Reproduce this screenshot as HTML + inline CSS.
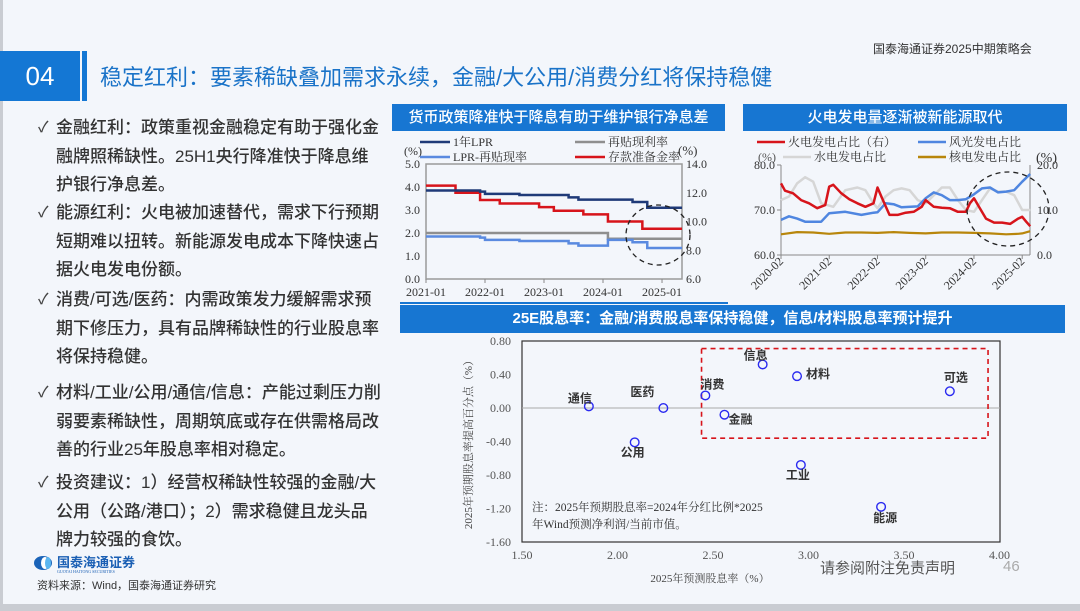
<!DOCTYPE html>
<html><head><meta charset="utf-8">
<style>
*{margin:0;padding:0;box-sizing:border-box}
body{width:1080px;height:611px;overflow:hidden;background:#f3f6fb;font-family:"Liberation Sans","Noto Sans CJK SC",sans-serif;position:relative}
.abs{position:absolute}
.bul{position:absolute;left:38px;width:350px;font-size:17px;line-height:28.5px;color:#333;font-weight:500}
.bul .ck{position:absolute;left:0;top:0;color:#444;font-size:15px}
.bul .tx{display:block;margin-left:18px;width:326px}
.ptitle{position:absolute;background:#1776d2;color:#fff;font-size:15px;text-align:center;line-height:27px;font-weight:500}
svg text{font-family:"Liberation Serif","Noto Serif CJK SC",serif}
</style></head><body>
<div class="abs" style="left:0;top:0;width:3px;height:611px;background:#c9ccd2"></div>
<div class="abs" style="left:0;top:604px;width:1080px;height:7px;background:#c9ccd2"></div>
<div class="abs" style="left:873px;top:40px;font-size:12px;color:#333">国泰海通证券2025中期策略会</div>
<div class="abs" style="left:0;top:51px;width:80px;height:50px;background:#1477d4;color:#fff;font-size:26px;line-height:50px;text-align:center">04</div>
<div class="abs" style="left:82px;top:51px;width:5px;height:50px;background:#1477d4"></div>
<div class="abs" style="left:100px;top:60px;font-size:22px;color:#1a73c8;white-space:nowrap">稳定红利：要素稀缺叠加需求永续，金融/大公用/消费分红将保持稳健</div>

<div class="bul" style="top:114px"><span class="ck">✓</span><span class="tx">金融红利：政策重视金融稳定有助于强化金融牌照稀缺性。25H1央行降准快于降息维护银行净息差。</span></div>
<div class="bul" style="top:199px"><span class="ck">✓</span><span class="tx">能源红利：火电被加速替代，需求下行预期短期难以扭转。新能源发电成本下降快速占据火电发电份额。</span></div>
<div class="bul" style="top:286px"><span class="ck">✓</span><span class="tx">消费/可选/医药：内需政策发力缓解需求预期下修压力，具有品牌稀缺性的行业股息率将保持稳健。</span></div>
<div class="bul" style="top:379px"><span class="ck">✓</span><span class="tx">材料/工业/公用/通信/信息：产能过剩压力削弱要素稀缺性，周期筑底或存在供需格局改善的行业25年股息率相对稳定。</span></div>
<div class="bul" style="top:469px"><span class="ck">✓</span><span class="tx">投资建议：1）经营权稀缺性较强的金融/大公用（公路/港口）；2）需求稳健且龙头品牌力较强的食饮。</span></div>

<div class="abs" style="left:33px;top:554px;width:130px;height:20px">
 <svg width="130" height="20"><ellipse cx="10" cy="9" rx="9" ry="7" fill="#1a63b8"/><ellipse cx="12" cy="9" rx="4" ry="6" fill="#fff"/><ellipse cx="15" cy="9" rx="3" ry="6" fill="#5bb6f0"/>
 <text x="24" y="13" font-size="13" fill="#1a5fb4" style="font-family:'Liberation Sans','Noto Sans CJK SC',sans-serif;font-weight:bold">国泰海通证券</text>
 <text x="24" y="19" font-size="4" fill="#1a5fb4">GUOTAI HAITONG SECURITIES</text></svg></div>
<div class="abs" style="left:37px;top:577px;font-size:11px;color:#333">资料来源：Wind，国泰海通证券研究</div>
<div class="abs" style="left:820px;top:557px;font-size:15px;color:#555">请参阅附注免责声明</div>
<div class="abs" style="left:1003px;top:558px;font-size:15px;color:#aaa">46</div>

<div class="ptitle" style="left:392px;top:104px;width:333px">货币政策降准快于降息有助于维护银行净息差</div>
<div class="ptitle" style="left:743px;top:104px;width:324px">火电发电量逐渐被新能源取代</div>
<div class="ptitle" style="left:400px;top:305px;width:665px;line-height:28px;font-weight:bold">25E股息率：金融/消费股息率保持稳健，信息/材料股息率预计提升</div>

<svg id="svg" class="abs" style="left:0;top:0" width="1080" height="611"></svg>

<script>
// ---- Chart 1 data ----
const lprDates=["2021-01","2021-12","2022-01","2022-08","2023-06","2023-08","2024-07","2024-10"];
const lprVals=[3.85,3.80,3.70,3.65,3.55,3.45,3.35,3.10];
const redDates=["2021-01","2024-02"];
const redVals=[2.00,1.75];
const rrrDates=["2021-01","2021-07","2021-12","2022-04","2022-12","2023-03","2023-09","2024-02","2024-09"];
const rrrVals=[12.5,12.0,11.5,11.25,11.0,10.75,10.5,10.0,9.5];
const c1Ticks=["2021-01","2022-01","2023-01","2024-01","2025-01"];
const c1LeftTicks=[0,1,2,3,4,5];
const c1RightTicks=[6,8,10,12,14];
const c1End="2025-05";
// ---- Chart 2 data ----
const c2Ticks=["2020-02","2021-02","2022-02","2023-02","2024-02","2025-02"];
const thermalM=["2020-02","2020-03","2020-05","2020-07","2020-09","2020-11","2021-01","2021-02","2021-03","2021-05","2021-07","2021-09","2021-11","2022-01","2022-02","2022-03","2022-05","2022-07","2022-09","2022-11","2023-01","2023-02","2023-04","2023-06","2023-08","2023-10","2023-12","2024-01","2024-02","2024-03","2024-05","2024-07","2024-09","2024-11","2025-01","2025-02","2025-03","2025-04"];
const thermalV=[75.9,74.3,73.7,72.2,71.5,70.4,71.1,75.2,75.6,73.7,72.4,71.5,70.7,71.5,75.0,72.9,68.9,68.9,69.4,69.6,70.7,72.2,70.7,70.5,70.4,69.6,69.6,71.5,72.6,71.1,68.1,67.2,67.2,66.9,68.1,68.5,67.4,66.4];
const windM=["2020-02","2020-04","2020-06","2020-08","2020-12","2021-02","2021-06","2021-10","2022-01","2022-02","2022-04","2022-06","2022-08","2022-12","2023-02","2023-04","2023-06","2023-08","2023-10","2023-12","2024-02","2024-04","2024-06","2024-08","2024-10","2024-12","2025-02","2025-04"];
const windV=[67.8,68.6,68.1,67.4,67.4,69.3,69.6,68.9,69.4,69.5,71.5,71.3,70.6,70.8,72.6,73.9,73.3,72.2,72.2,72.4,73.5,74.8,75.0,73.9,74.1,74.4,76.3,78.0];
const hydroM=["2020-02","2020-04","2020-06","2020-08","2020-10","2020-12","2021-03","2021-06","2021-09","2021-11","2022-01","2022-02","2022-04","2022-06","2022-08","2022-10","2022-12","2023-02","2023-04","2023-06","2023-08","2023-10","2023-12","2024-02","2024-04","2024-06","2024-08","2024-10","2024-12","2025-02","2025-04"];
const hydroV=[72.2,73.0,75.9,77.3,76.3,71.5,70.7,74.4,75.0,74.4,71.5,70.4,73.0,74.4,74.8,74.4,72.2,71.5,73.3,75.0,75.0,72.2,70.0,69.6,72.2,74.8,74.1,74.1,73.3,70.0,70.0];
const nuclearM=["2020-02","2020-06","2020-10","2021-02","2021-06","2021-10","2022-02","2022-06","2022-10","2023-02","2023-06","2023-10","2024-02","2024-06","2024-10","2025-01","2025-02","2025-04"];
const nuclearV=[64.6,65.1,65.0,64.7,65.0,65.0,64.9,65.1,64.9,64.8,65.0,65.0,64.9,64.8,64.6,64.7,64.8,65.3];
const c2LeftTicks=[60,70,80];
const c2RightTicks=["0.0","10.0","20.0"];
// ---- Chart 3 data ----
const sectors=["通信","医药","公用","消费","金融","信息","材料","工业","能源","可选"];
const divYield=[1.85,2.24,2.09,2.46,2.56,2.76,2.94,2.96,3.38,3.74];
const divChange=[0.02,0.00,-0.41,0.15,-0.08,0.52,0.38,-0.68,-1.18,0.20];
const c3XTicks=[1.5,2.0,2.5,3.0,3.5,4.0];
const c3YTicks=[0.8,0.4,0.0,-0.4,-0.8,-1.2,-1.6];

const NS="http://www.w3.org/2000/svg";
const svg=document.getElementById('svg');
function mk(tag,attrs,parent){const e=document.createElementNS(NS,tag);for(const k in attrs)e.setAttribute(k,attrs[k]);(parent||svg).appendChild(e);return e;}
function txt(x,y,s,attrs){const t=mk('text',Object.assign({x:x,y:y},attrs||{}));t.textContent=s;return t;}
function mIdx(s,base){const [y,m]=s.split('-').map(Number);const [by,bm]=base.split('-').map(Number);return (y-by)*12+(m-bm);}

// ===== Chart 1 =====
const c1x=s=>426+mIdx(s,"2021-01")*4.917;
const c1yL=v=>279-v*23;
const c1yR=v=>279-(v-6)*14.375;
let g=mk('g',{});


mk('rect',{x:426,y:164,width:256,height:115,fill:'none',stroke:'#9a9a9a','stroke-width':1.5},g);
c1LeftTicks.forEach(v=>{const t=txt(420,c1yL(v)+4,v.toFixed(1),{'font-size':12,'text-anchor':'end',fill:'#333'},g);});
c1RightTicks.forEach(v=>{const t=txt(686,c1yR(v)+4,v.toFixed(1),{'font-size':12,fill:'#333'},g);});
c1Ticks.forEach(s=>{const x=c1x(s);mk('line',{x1:x,x2:x,y1:279,y2:283,stroke:'#888'},g);const t=txt(x,296,s,{'font-size':12,'text-anchor':'middle',fill:'#333'},g);});
function stepPath(yf,valAt){const endM=mIdx(c1End,"2021-01");let d='';
 for(let m=0;m<=endM;m++){let v=valAt(m);const x0=426+m*4.917,x1=426+(m+1)*4.917;const y=yf(v);d+=(m===0?'M':'L')+x0+','+y+' L'+Math.min(x1,682)+','+y+' ';}return d;}
function valFn(dates,vals){return m=>{let v=vals[0];dates.forEach((d,i)=>{if(mIdx(d,"2021-01")<=m)v=vals[i];});return v;};}
const lprF=valFn(lprDates,lprVals),redF=valFn(redDates,redVals),rrrF=valFn(rrrDates,rrrVals);
const spreadF=m=>lprF(m)-redF(m);
let p;
p=mk('path',{d:stepPath(c1yR,rrrF),fill:'none',stroke:'#d7141b','stroke-width':2.5},g);
p=mk('path',{d:stepPath(c1yL,redF),fill:'none',stroke:'#8f8f8f','stroke-width':2.5},g);
p=mk('path',{d:stepPath(c1yL,spreadF),fill:'none',stroke:'#5a8ae0','stroke-width':2.5},g);
p=mk('path',{d:stepPath(c1yL,lprF),fill:'none',stroke:'#1f3a78','stroke-width':2.5},g);
p=mk('ellipse',{cx:658,cy:235,rx:32,ry:30,fill:'none',stroke:'#222','stroke-width':1.3,'stroke-dasharray':'5,4'},g);
const l1=[[420,142,'#1f3a78','1年LPR'],[420,157,'#5a8ae0','LPR-再贴现率'],[575,142,'#8f8f8f','再贴现利率'],[575,157,'#d7141b','存款准备金率']];
l1.forEach(a=>{mk('line',{x1:a[0],x2:a[0]+30,y1:a[1],y2:a[1],stroke:a[2],'stroke-width':2.5},g);const t=txt(a[0]+33,a[1]+4,a[3],{'font-size':12,fill:'#333'},g);});
txt(404,155,'(%)',{'font-size':12,fill:'#333'},g);
txt(678,155,'(%)',{'font-size':13,fill:'#333'},g);
mk('line',{x1:400,x2:728,y1:303,y2:303,stroke:'#1776d2','stroke-width':2},g);

// ===== Chart 2 =====
const c2x=s=>781+mIdx(s,"2020-02")*4.02;
const c2y=v=>255-(v-60)*4.5;
g=mk('g',{});


mk('line',{x1:781,x2:781,y1:165,y2:255,stroke:'#888'},g);
mk('line',{x1:781,x2:1030,y1:255,y2:255,stroke:'#888'},g);
mk('line',{x1:1030,x2:1030,y1:165,y2:255,stroke:'#888'},g);
c2LeftTicks.forEach(v=>{mk('line',{x1:777,x2:781,y1:c2y(v),y2:c2y(v),stroke:'#888'},g);const t=txt(775,c2y(v)+4,v.toFixed(1),{'font-size':12,'text-anchor':'end',fill:'#333'},g);});
c2RightTicks.forEach((s,i)=>{const t=txt(1037,255-i*45+4,s,{'font-size':12,fill:'#333'},g);});
c2Ticks.forEach(s=>{const x=c2x(s);mk('line',{x1:x,x2:x,y1:255,y2:259,stroke:'#888'},g);const t=txt(x+3,262,s,{'font-size':12,'text-anchor':'end',fill:'#333',transform:'rotate(-45 '+(x+3)+' 262)'},g);});
function linePath(ms,vs){return ms.map((m,i)=>(i?'L':'M')+c2x(m).toFixed(1)+','+c2y(vs[i]).toFixed(1)).join(' ');}
p=mk('path',{d:linePath(hydroM,hydroV),fill:'none',stroke:'#d6d6d6','stroke-width':2.5,'stroke-linejoin':'round'},g);
p=mk('path',{d:linePath(nuclearM,nuclearV),fill:'none',stroke:'#b8860b','stroke-width':2.2,'stroke-linejoin':'round'},g);
p=mk('path',{d:linePath(windM,windV),fill:'none',stroke:'#4f86e0','stroke-width':2.5,'stroke-linejoin':'round'},g);
p=mk('path',{d:linePath(thermalM,thermalV),fill:'none',stroke:'#d7141b','stroke-width':2.5,'stroke-linejoin':'round'},g);
p=mk('ellipse',{cx:1008,cy:209,rx:41,ry:37,fill:'none',stroke:'#222','stroke-width':1.3,'stroke-dasharray':'5,4'},g);
const l2=[[757,142,'#d7141b','火电发电占比（右）'],[783,157,'#d6d6d6','水电发电占比'],[918,142,'#4f86e0','风光发电占比'],[918,157,'#b8860b','核电发电占比']];
l2.forEach(a=>{mk('line',{x1:a[0],x2:a[0]+28,y1:a[1],y2:a[1],stroke:a[2],'stroke-width':2.5},g);const t=txt(a[0]+31,a[1]+4,a[3],{'font-size':12,fill:'#333'},g);});
txt(758,161,'(%)',{'font-size':12,fill:'#555'},g);
txt(1036,162,'(%)',{'font-size':14,fill:'#333'},g);

// ===== Chart 3 =====
const c3x=v=>522+(v-1.5)*191;
const c3y=v=>341+(0.8-v)*83.75;
const labelOffsets=[[-9,-8],[-21,-16],[-2,10],[7,-11],[16,5],[-7,-9],[21,-2],[-3,10],[4,11],[6,-14]];
g=mk('g',{});


mk('rect',{x:522,y:341,width:478,height:201,fill:'none',stroke:'#333','stroke-width':1.2},g);
mk('line',{x1:522,x2:1000,y1:c3y(0),y2:c3y(0),stroke:'#aaa'},g);
c3YTicks.forEach(v=>{const t=txt(511,c3y(v)+4,v.toFixed(2),{'font-size':12,'text-anchor':'end',fill:'#555'},g);});
c3XTicks.forEach(v=>{const t=txt(c3x(v),559,v.toFixed(2),{'font-size':12,'text-anchor':'middle',fill:'#555'},g);});
let tt=txt(710,582,'2025年预测股息率（%）',{'font-size':11,'text-anchor':'middle',fill:'#444'},g);

tt=txt(472,442,'2025年预期股息率提高百分点（%）',{'font-size':11,'text-anchor':'middle',fill:'#444',transform:'rotate(-90 472 442)'},g);

const bx1=c3x(2.44),bx2=c3x(3.94),by1=c3y(0.71),by2=c3y(-0.36);
p=mk('rect',{x:bx1,y:by1,width:bx2-bx1,height:by2-by1,fill:'none',stroke:'#d7141b','stroke-width':1.6,'stroke-dasharray':'5,4'},g);

sectors.forEach((s,i)=>{const x=c3x(divYield[i]),y=c3y(divChange[i]);
 const c=mk('circle',{cx:x,cy:y,r:4.3,fill:'none',stroke:'#2a2af0','stroke-width':1.4},g);
 
 
 const t=txt(x+labelOffsets[i][0],y+labelOffsets[i][1]+4,s,{'font-size':12,'text-anchor':'middle',fill:'#333','font-weight':'bold',style:"font-family:'Liberation Sans','Noto Sans CJK SC',sans-serif"},g);
 
 
});
tt=txt(532,511,'注：2025年预期股息率=2024年分红比例*2025',{'font-size':11.5,fill:'#333'},g);

tt=txt(532,528,'年Wind预测净利润/当前市值。',{'font-size':11.5,fill:'#333'},g);

</script>
</body></html>
